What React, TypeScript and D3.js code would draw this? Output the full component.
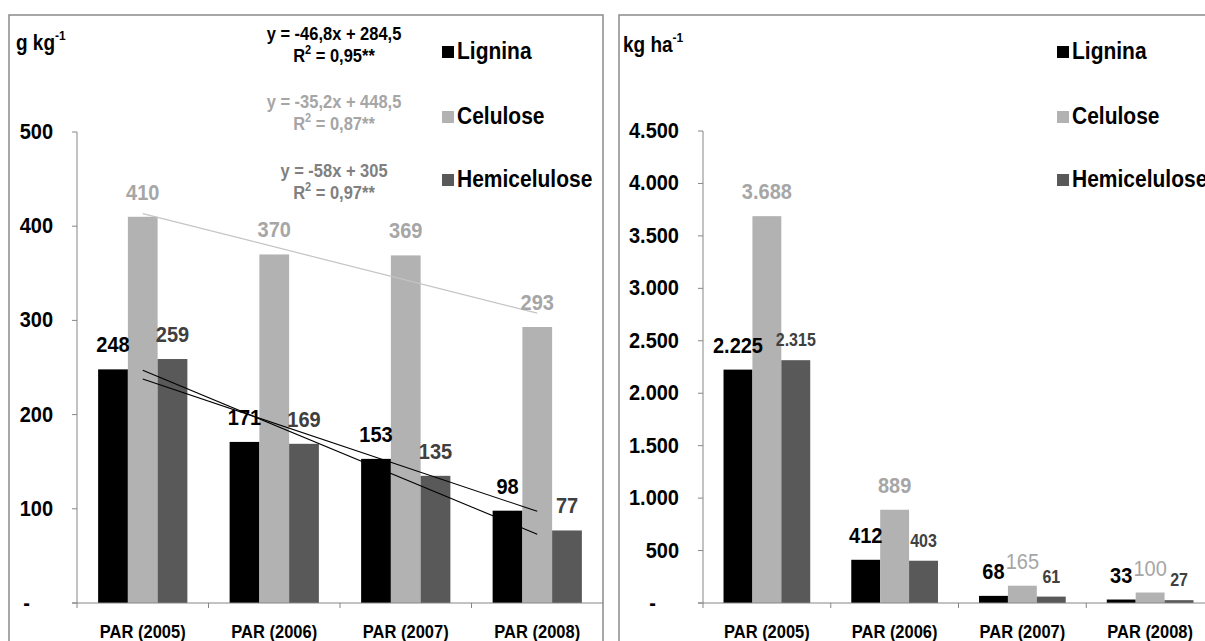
import React from 'react';
import * as d3 from 'd3';

// categories and series
const categories = ['PAR (2005)', 'PAR (2006)', 'PAR (2007)', 'PAR (2008)'];
const seriesNames = ['Lignina', 'Celulose', 'Hemicelulose'];
const seriesColors = ['#000000', '#b2b2b2', '#595959'];
const labelColors = ['#000000', '#a6a6a6', '#404040'];

// g kg-1
const ligninaGkg = [248, 171, 153, 98];
const celuloseGkg = [410, 370, 369, 293];
const hemiGkg = [259, 169, 135, 77];
const gkgTicks = [0, 100, 200, 300, 400, 500];

// kg ha-1
const ligninaKgha = [2225, 412, 68, 33];
const celuloseKgha = [3688, 889, 165, 100];
const hemiKgha = [2315, 403, 61, 27];
const kghaTicks = [0, 500, 1000, 1500, 2000, 2500, 3000, 3500, 4000, 4500];

// linear trends on the g kg-1 panel (x = 1..4)
const trendSlopes = [-46.8, -35.2, -58];
const trendIntercepts = [284.5, 448.5, 305];
const trendColors = ['#000000', '#c4c4c4', '#000000'];
const equationTexts = ['y = -46,8x + 284,5', 'y = -35,2x + 448,5', 'y = -58x + 305'];
const r2Texts = [' = 0,95**', ' = 0,87**', ' = 0,97**'];
const equationColors = ['#000000', '#a6a6a6', '#808080'];

const FONT = '"Liberation Sans", Arial, Helvetica, sans-serif';
const AXIS = '#868686';
const STRETCH = 1.12; // the source text is drawn a bit taller than plain Arial
const fmt = d3.formatLocale({ decimal: ',', thousands: '.', grouping: [3], currency: ['', ''] }).format(',d');

// text with a slight vertical stretch around its baseline
const T: React.FC<any> = ({ x, y, children, ...rest }) => (
  <text transform={`translate(${x},${y}) scale(1,${STRETCH})`} fontFamily={FONT} fontWeight="bold" {...rest}>
    {children}
  </text>
);

interface PanelProps {
  boxX: number;
  boxW: number;
  axisX: number;
  axisEnd: number;
  yTop: number;
  maxVal: number;
  ticks: number[];
  values: number[][];
  labelSizes: number[];
  labelWeights: string[][];
  labelGaps: number[];
  unit: string;
  unitX: number;
  unitY: number;
  legendX: number;
  showTrends?: boolean;
}

const Y0 = 603;
const legendRows = [52, 117, 180];

const Panel: React.FC<PanelProps> = ({
  boxX, boxW, axisX, axisEnd, yTop, maxVal, ticks, values,
  labelSizes, labelWeights, labelGaps, unit, unitX, unitY, legendX, showTrends
}) => {
  const x0 = d3.scaleBand<string>().domain(categories).range([axisX, axisEnd]).padding(0);
  const x1 = d3.scaleBand<string>().domain(seriesNames).range([0, x0.bandwidth()])
    .paddingInner(0).paddingOuter(0.71);
  const y = d3.scaleLinear().domain([0, maxVal]).range([Y0, yTop]);
  const center = (i: number) => (x0(categories[i]) as number) + x0.bandwidth() / 2;

  return (
    <g>
      <rect x={boxX} y={15} width={boxW} height={660} fill="#fff" stroke="#8a8a8a" strokeWidth={1.5} />

      {/* unit label */}
      <T x={unitX} y={unitY} fontSize={19}>
        {unit}
        <tspan fontSize={12} dy={-9}>-1</tspan>
      </T>

      {/* y axis */}
      <line x1={axisX} x2={axisX} y1={y(maxVal)} y2={Y0} stroke={AXIS} strokeWidth={1} />
      {ticks.map(t => (
        <g key={'yt' + t}>
          <line x1={axisX - 5} x2={axisX} y1={y(t)} y2={y(t)} stroke={AXIS} />
          <T x={t === 0 ? axisX - 47 : axisX - 24} y={y(t) + 7} textAnchor="end" fontSize={20}>
            {t === 0 ? '-' : fmt(t)}
          </T>
        </g>
      ))}

      {/* bars */}
      {values.map((vals, s) => vals.map((v, i) => (
        <rect key={'b' + s + '-' + i}
          x={(x0(categories[i]) as number) + (x1(seriesNames[s]) as number)}
          y={y(v)} width={x1.bandwidth()} height={Y0 - y(v)} fill={seriesColors[s]} />
      )))}

      {/* x axis */}
      <line x1={axisX - 5} x2={axisEnd} y1={Y0} y2={Y0} stroke={AXIS} />
      {categories.map(c => (
        <line key={'xt' + c} x1={x0(c) as number} x2={x0(c) as number} y1={Y0} y2={Y0 + 5} stroke={AXIS} />
      ))}
      {categories.map((c, i) => (
        <T key={'xl' + c} x={center(i)} y={638} textAnchor="middle" fontSize={16.5}>{c}</T>
      ))}

      {/* trend lines */}
      {showTrends && trendSlopes.map((m, s) => (
        <line key={'tr' + s}
          x1={center(0)} y1={y(m * 1 + trendIntercepts[s])}
          x2={center(3)} y2={y(m * 4 + trendIntercepts[s])}
          stroke={trendColors[s]} strokeWidth={s === 1 ? 1.2 : 1.1} />
      ))}

      {/* data labels */}
      {values.map((vals, s) => vals.map((v, i) => (
        <T key={'l' + s + '-' + i}
          x={(x0(categories[i]) as number) + (x1(seriesNames[s]) as number) + x1.bandwidth() / 2}
          y={y(v) - labelGaps[s]} textAnchor="middle" fill={labelColors[s]}
          fontWeight={labelWeights[s][i]} fontSize={labelSizes[s]}>
          {fmt(v)}
        </T>
      )))}

      {/* legend */}
      {seriesNames.map((n, s) => (
        <g key={'lg' + n}>
          <rect x={legendX} y={legendRows[s] - 6} width={12} height={12} fill={seriesColors[s]} />
          <T x={legendX + 15} y={legendRows[s] + 7} fontSize={21}>{n}</T>
        </g>
      ))}
    </g>
  );
};

const eqRows = [[40, 62], [108, 130], [177, 199]];

export default function App() {
  const bold = ['bold', 'bold', 'bold', 'bold'];
  return (
    <svg width={1205} height={641} style={{ position: 'absolute', left: 0, top: 0, background: '#fff' }}>
      <Panel boxX={9} boxW={594} axisX={77} axisEnd={603} yTop={132} maxVal={500}
        ticks={gkgTicks} values={[ligninaGkg, celuloseGkg, hemiGkg]}
        labelSizes={[20, 20, 20]} labelWeights={[bold, bold, bold]} labelGaps={[17, 17, 17]}
        unit="g kg" unitX={16} unitY={50} legendX={442} showTrends />
      <Panel boxX={619} boxW={600} axisX={703} axisEnd={1214} yTop={131} maxVal={4500}
        ticks={kghaTicks} values={[ligninaKgha, celuloseKgha, hemiKgha]}
        labelSizes={[20, 20, 16]} labelWeights={[bold, ['bold', 'bold', 'normal', 'normal'], bold]}
        labelGaps={[17, 17, 14]}
        unit="kg ha" unitX={623} unitY={52} legendX={1057} />

      {/* regression equations */}
      {equationTexts.map((e, s) => (
        <g key={'eq' + s} fill={equationColors[s]}>
          <T x={334} y={eqRows[s][0]} fontSize={16.5} textAnchor="middle">{e}</T>
          <T x={334} y={eqRows[s][1]} fontSize={16.5} textAnchor="middle">
            R<tspan fontSize={11} dy={-7}>2</tspan><tspan dy={7}>{r2Texts[s]}</tspan>
          </T>
        </g>
      ))}
    </svg>
  );
}
